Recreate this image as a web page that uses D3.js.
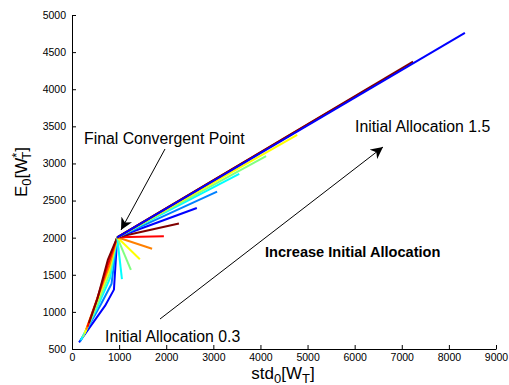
<!DOCTYPE html>
<html>
<head>
<meta charset="utf-8">
<script src="https://cdn.jsdelivr.net/npm/d3@7"></script>
<style>
  body { margin: 0; background: #fff; }
  text { font-family: "Liberation Sans", Arial, Helvetica, sans-serif; }
</style>
</head>
<body>
<div id="chart"></div>
<script>
// jet colour order used for every group of runs
var jetColors = ["#0000ff", "#0080ff", "#00ffff", "#80ff80", "#ffff00", "#ff8000", "#ff0000", "#800000"];

// where every run ends up
var convergentPoint = [960, 2005];

// runs with small initial allocation (start bottom-left), [std, E] points before convergence
var lowRuns = [
    [[150, 590], [700, 1080], [890, 1300]],
    [[170, 600], [620, 1110], [840, 1380]],
    [[190, 620], [530, 1050], [810, 1460]],
    [[230, 660], [480, 1010], [800, 1520]],
    [[270, 710], [460, 1030], [790, 1570]],
    [[300, 760], [480, 1080], [790, 1620]],
    [[330, 800], [510, 1130], [775, 1660]],
    [[360, 850], [540, 1180], [760, 1700]]
];

// runs starting just right of the final point (colour index, start)
var midColorIdx = [2, 3, 4, 5, 6, 7];
var midStarts = [[1060, 1440], [1250, 1565], [1440, 1710], [1700, 1850], [1950, 2020], [2270, 2190]];

// runs starting far up-right (colour index, start)
var highColorIdx = [0, 1, 2, 3, 4, 5, 6, 7, 0];
var highStarts = [[2650, 2400], [3080, 2620], [3550, 2860], [4120, 3100], [4780, 3385],
                  [5500, 3712], [6400, 4048], [7240, 4372], [8340, 4760]];

var xTicks = d3.range(0, 9001, 1000);
var yTicks = d3.range(500, 5001, 500);

var width = 509, height = 385;
var margin = {top: 15, right: 13, bottom: 36, left: 72};

var svg = d3.select("#chart").append("svg")
    .attr("width", width)
    .attr("height", height);

var x = d3.scaleLinear()
    .domain([0, 9000])
    .range([margin.left, width - margin.right]);

var y = d3.scaleLinear()
    .domain([500, 5000])
    .range([height - margin.bottom, margin.top]);

var line = d3.line()
    .x(function(d) { return x(d[0]); })
    .y(function(d) { return y(d[1]); });

// build every run as start -> ... -> convergent point
var runs = [];
lowRuns.forEach(function(pts, i) {
    runs.push({color: jetColors[i], pts: pts.concat([convergentPoint])});
});
midStarts.forEach(function(p, i) {
    runs.push({color: jetColors[midColorIdx[i]], pts: [p, convergentPoint]});
});
highStarts.forEach(function(p, i) {
    runs.push({color: jetColors[highColorIdx[i]], pts: [p, convergentPoint]});
});

svg.selectAll(".run")
    .data(runs)
    .enter().append("path")
    .attr("class", "run")
    .attr("d", function(d) { return line(d.pts); })
    .attr("fill", "none")
    .attr("stroke", function(d) { return d.color; })
    .attr("stroke-width", 2)
    .attr("stroke-linejoin", "round");

// axes, MATLAB style ticks pointing in
var xAxis = svg.append("g")
    .attr("transform", "translate(0," + y(500) + ")")
    .call(d3.axisBottom(x).tickValues(xTicks).tickFormat(d3.format("d"))
        .tickSize(-4).tickSizeOuter(0).tickPadding(5));

var yAxis = svg.append("g")
    .attr("transform", "translate(" + x(0) + ",0)")
    .call(d3.axisLeft(y).tickValues(yTicks).tickFormat(d3.format("d"))
        .tickSize(-4).tickSizeOuter(0).tickPadding(6));

[xAxis, yAxis].forEach(function(g) {
    g.selectAll("text").style("font-size", "10.5px").attr("fill", "#000")
        .style("font-family", "'Liberation Sans', Arial, sans-serif");
    g.select(".domain").attr("stroke", "#000");
    g.selectAll(".tick line").attr("stroke", "#000");
});

// axis labels
var xl = svg.append("text")
    .attr("x", 283).attr("y", 379)
    .attr("text-anchor", "middle")
    .style("font-size", "17px");
xl.append("tspan").text("std");
xl.append("tspan").attr("baseline-shift", "-30%").style("font-size", "13px").text("0");
xl.append("tspan").text("[W");
xl.append("tspan").attr("baseline-shift", "-30%").style("font-size", "13px").text("T");
xl.append("tspan").text("]");

var yl = svg.append("text")
    .attr("transform", "translate(27,172) rotate(-90)")
    .attr("text-anchor", "middle")
    .style("font-size", "17px");
yl.append("tspan").text("E");
yl.append("tspan").attr("baseline-shift", "-30%").style("font-size", "13px").text("0");
yl.append("tspan").text("[W");
yl.append("tspan").attr("baseline-shift", "45%").style("font-size", "13px").text("*");
yl.append("tspan").attr("dx", -7).attr("baseline-shift", "-30%").style("font-size", "13px").text("T");
yl.append("tspan").text("]");

// annotations
var defs = svg.append("defs");
defs.append("marker")
    .attr("id", "head")
    .attr("viewBox", "0 0 10 10")
    .attr("refX", 10).attr("refY", 5)
    .attr("markerWidth", 12).attr("markerHeight", 12)
    .attr("markerUnits", "userSpaceOnUse")
    .attr("orient", "auto")
    .append("path")
    .attr("d", "M0,0 L10,5 L0,10 L3,5 Z")
    .attr("fill", "#000");

svg.append("line")
    .attr("x1", 165).attr("y1", 149).attr("x2", 121).attr("y2", 230)
    .attr("stroke", "#000").attr("stroke-width", 1)
    .attr("marker-end", "url(#head)");

svg.append("line")
    .attr("x1", 160).attr("y1", 319).attr("x2", 383).attr("y2", 147)
    .attr("stroke", "#000").attr("stroke-width", 1)
    .attr("marker-end", "url(#head)");

svg.append("text").attr("x", 84).attr("y", 144).style("font-size", "15.8px")
    .text("Final Convergent Point");
svg.append("text").attr("x", 355).attr("y", 132).style("font-size", "15.8px")
    .text("Initial Allocation 1.5");
svg.append("text").attr("x", 105).attr("y", 342).style("font-size", "15.8px")
    .text("Initial Allocation 0.3");
svg.append("text").attr("x", 265).attr("y", 257).style("font-size", "14.6px")
    .style("font-weight", "bold")
    .text("Increase Initial Allocation");
</script>
</body>
</html>
